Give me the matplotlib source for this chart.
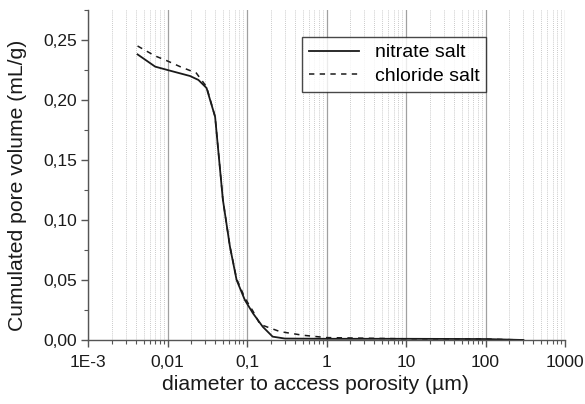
import matplotlib
matplotlib.use("Agg")
import matplotlib.pyplot as plt
from matplotlib.ticker import FixedLocator, LogLocator, MultipleLocator, FuncFormatter

plt.rcParams['font.family'] = ['Liberation Sans', 'DejaVu Sans']

# values (diameter in µm, volume in mL/g)
nitrate_d = [0.0042, 0.0070, 0.010, 0.0192, 0.0245, 0.031, 0.0397, 0.0497, 0.061,
             0.074, 0.094, 0.119, 0.158, 0.21, 0.3, 1.0, 10.0, 100.0, 300.0]
nitrate_v = [0.238, 0.2278, 0.225, 0.220, 0.2167, 0.210, 0.186, 0.117, 0.0778,
             0.050, 0.0333, 0.0222, 0.011, 0.0028, 0.0012, 0.0010, 0.0010, 0.0008, 0.0]
chloride_d = [0.0042, 0.0070, 0.010, 0.0144, 0.023, 0.031, 0.0397, 0.0497, 0.061,
              0.074, 0.094, 0.119, 0.146, 0.26, 0.5, 1.0, 10.0, 100.0, 300.0]
chloride_v = [0.245, 0.2367, 0.2325, 0.2278, 0.2225, 0.211, 0.186, 0.117, 0.078,
              0.051, 0.035, 0.024, 0.013, 0.007, 0.004, 0.002, 0.001, 0.0008, 0.0]
xtick_vals = [1e-3, 1e-2, 1e-1, 1, 10, 100, 1000]
xtick_labels = ['1E-3', '0,01', '0,1', '1', '10', '100', '1000']

fig = plt.figure(figsize=(5.85, 4.04), dpi=100)
ax = fig.add_axes([88/585, 1 - 340/404, (565-88)/585, (340-10)/404])

ax.plot(nitrate_d, nitrate_v, color='#1a1a1a', lw=1.3, ls='-', label='nitrate salt')
ax.plot(chloride_d, chloride_v, color='#1a1a1a', lw=1.1, ls=(0, (3.5, 3.5)), label='chloride salt')

ax.set_xscale('log')
ax.set_xlim(1e-3, 1000)
ax.set_ylim(0, 0.275)

ax.xaxis.set_major_locator(FixedLocator(xtick_vals))
ax.set_xticklabels(xtick_labels)
ax.xaxis.set_minor_locator(LogLocator(base=10, subs=range(2, 10)))
ax.xaxis.set_minor_formatter(FuncFormatter(lambda v, p: ''))
ax.yaxis.set_major_locator(MultipleLocator(0.05))
ax.yaxis.set_minor_locator(MultipleLocator(0.025))
ax.yaxis.set_major_formatter(FuncFormatter(lambda v, p: f'{v:.2f}'.replace('.', ',')))

ax.grid(True, which='major', axis='x', color='#a0a0a0', lw=0.9, ls='-')
ax.grid(True, which='minor', axis='x', color='#b8b8b8', lw=0.6, ls=(0, (1, 1.5)))
ax.set_axisbelow(True)

for s in ['top', 'right']:
    ax.spines[s].set_visible(False)
for s in ['left', 'bottom']:
    ax.spines[s].set_color('#555555')
    ax.spines[s].set_linewidth(1.0)

ax.tick_params(which='major', direction='out', length=5, width=1, color='#555555',
               labelsize=12.5, labelcolor='#1a1a1a', pad=3)
ax.tick_params(axis='x', which='major', pad=5.5)
ax.tick_params(which='minor', direction='out', length=3, width=0.8, color='#555555')

ax.set_xlabel('diameter to access porosity (µm)', fontsize=15.2, color='#1a1a1a', labelpad=3)
ax.xaxis.set_label_coords((315 - 88)/477, -0.105)
ax.set_ylabel('Cumulated pore volume (mL/g)', fontsize=15.2, color='#1a1a1a', labelpad=3)
ax.yaxis.set_label_coords(-0.128, (340 - 185.5)/330)

leg = ax.legend(loc='upper left', bbox_to_anchor=((302 - 88)/477, 1 - 27/330),
                bbox_transform=ax.transAxes, fontsize=14, frameon=True, fancybox=False,
                handlelength=2.6, borderpad=0.35, labelspacing=0.3, borderaxespad=0)
leg.get_frame().set_edgecolor('#1a1a1a')
leg.get_frame().set_linewidth(1.0)

fig.savefig('out.png', dpi=100)
